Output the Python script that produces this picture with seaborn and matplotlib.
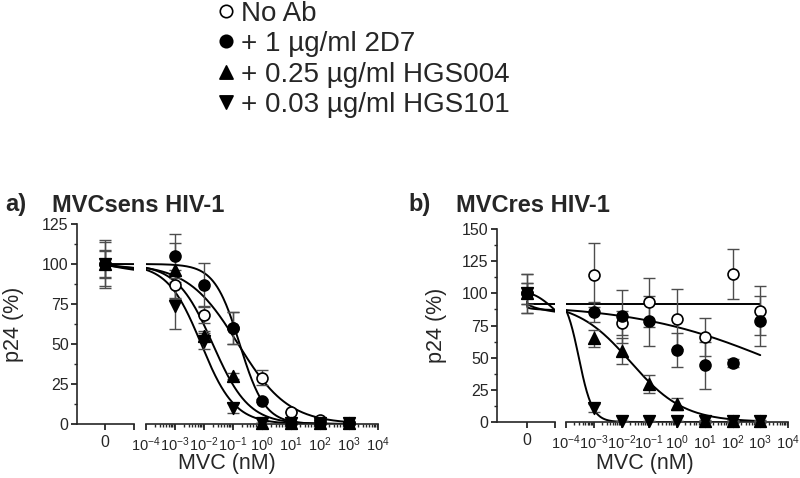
import numpy as np
import pandas as pd
import seaborn as sns
import matplotlib
matplotlib.use('Agg')
import matplotlib.pyplot as plt
from matplotlib.ticker import FixedLocator, FixedFormatter, NullFormatter, NullLocator
from matplotlib.markers import TICKDOWN

# concentrations of MVC (nM); the 0 point is drawn on its own axis segment
conc = [1e-3, 1e-2, 1e-1, 1e0, 1e1, 1e2, 1e3]
decades = [-4, -3, -2, -1, 0, 1, 2, 3, 4]
series = ['No Ab', '+ 1 µg/ml 2D7', '+ 0.25 µg/ml HGS004', '+ 0.03 µg/ml HGS101']
markers = ['o', 'o', '^', 'v']
faces = ['white', 'black', 'black', 'black']

# a) MVCsens HIV-1
a_zero = [100, 100, 100, 100]
a_zero_err = [14, 9, 8, 15]
a_noab = [87, 68, 60, 29, 7.5, 2.5, 0.5]
a_noab_err = [9, 5, 10, 4.5, 0, 0, 0]
a_2d7 = [105, 87, 60, 14.5, 0.5, 0.5, 0.5]
a_2d7_err = [14, 13.5, 10, 1, 0, 0, 0]
a_hgs004 = [96, 55, 30, 0.5, 0.5, 0.5, 0.5]
a_hgs004_err = [17, 3, 2, 0, 0, 0, 0]
a_hgs101 = [74, 52, 10, 0.5, 0.5, 0.5, 0.5]
a_hgs101_err = [14.5, 5, 3, 0, 0, 0, 0]
# fitted dose-response parameters: top, bottom, IC50 (nM), hill slope
a_top = [100, 100, 100, 100]
a_bottom = [0, 0, 0, 0]
a_ic50 = [0.15, 0.17, 0.02, 0.008]
a_hill = [0.5, 1.0, 0.7, 0.75]

# b) MVCres HIV-1
b_zero = [100, 100, 100, 100]
b_zero_err = [15, 8, 15, 8]
b_noab = [114, 77, 93, 80, 66, 115, 86.5]
b_noab_err = [25, 9, 19, 23, 15, 19.5, 19]
b_2d7 = [85.5, 82, 78.5, 56, 44, 46, 78.5]
b_2d7_err = [7.5, 20.5, 19.5, 13.5, 18, 3.3, 19.5]
b_hgs004 = [65, 55, 29.5, 14, 0.5, 0.5, 0.5]
b_hgs004_err = [6.5, 10, 7, 4.5, 1, 1, 1]
b_hgs101 = [11, 0.5, 0.5, 0.5, 0.5, 0.5, 0.5]
b_hgs101_err = [3, 0, 0, 0, 0, 0, 0]
b_top = [92, 91.5, 93.5, 100]
b_bottom = [92, 0, 0, 0]
b_ic50 = [1.0, 5160, 0.021, 2.9e-4]
b_hill = [1.0, 0.167, 0.45, 1.78]

W, H = 800, 478

sns.set_style('ticks')
plt.rcParams['font.family'] = ['Liberation Sans', 'DejaVu Sans']
plt.rcParams['mathtext.fontset'] = 'custom'
plt.rcParams['mathtext.rm'] = 'Liberation Sans'
plt.rcParams['mathtext.default'] = 'regular'


def logistic(c, top, bottom, ic50, hill):
    return bottom + (top - bottom) / (1 + (c / ic50) ** hill)


def rect(x0, x1, y0, y1):
    return [x0 / W, 1 - y1 / H, (x1 - x0) / W, (y1 - y0) / H]


def draw_panel(fig, xs, ys, zero, zero_err, vals, errs, fits, ymax):
    axL = fig.add_axes(rect(xs[0], xs[1], ys[0], ys[1]))
    axR = fig.add_axes(rect(xs[3], xs[4], ys[0], ys[1]))
    left_lim = -(xs[2] - xs[0]) / (xs[1] - xs[2])

    c_left = np.linspace(0, 1, 60)
    c_right = np.logspace(-4, 3, 300)
    for i in range(4):
        top, bottom, ic50, hill = fits[0][i], fits[1][i], fits[2][i], fits[3][i]
        # curve on the "0" segment runs linearly from 0 up to 1e-4 nM
        sns.lineplot(x=c_left, y=logistic(c_left * 1e-4, top, bottom, ic50, hill),
                     ax=axL, color='black', lw=1.4, sort=False, estimator=None, zorder=2)
        sns.lineplot(x=c_right, y=logistic(c_right, top, bottom, ic50, hill),
                     ax=axR, color='black', lw=1.4, sort=False, estimator=None, zorder=2)

    for i in range(4):
        for ax, x, y, e in [(axL, [0], [zero[i]], [zero_err[i]]),
                            (axR, conc, vals[i], errs[i])]:
            eb = ax.errorbar(x, y, yerr=e, fmt='none', ecolor='0.3', elinewidth=1,
                             capsize=4, capthick=1, zorder=3)
            for art in eb.get_children():
                art.set_clip_on(False)
            sns.scatterplot(x=x, y=y, ax=ax, marker=markers[i], s=62 if markers[i] == 'o' else 70,
                            color=faces[i], edgecolor='black', linewidth=1.2,
                            clip_on=False, zorder=4 + (i > 0), legend=False)

    for ax in (axL, axR):
        ax.set_ylim(0, ymax)
        ax.set_xlabel('')
        ax.set_ylabel('')
        ax.xaxis.label.set_visible(False)
        ax.yaxis.label.set_visible(False)
        sns.despine(ax=ax)
        ax.spines['bottom'].set_linewidth(1.2)
        ax.spines['left'].set_linewidth(1.2)
        ax.tick_params(which='major', direction='out', length=4, width=1.1,
                       labelsize=11.5, pad=2, color='black')
        ax.tick_params(which='minor', direction='out', length=2.5, width=1)

    axL.set_xlim(left_lim, 1)
    axL.set_xticks([0])
    axL.set_xticklabels(['0'])
    axL.xaxis.set_minor_locator(NullLocator())
    # end tick of the broken "0" segment
    axL.plot([1], [0], marker=TICKDOWN, ms=4, mew=1.1, color='black', clip_on=False)
    axL.set_yticks(np.arange(0, ymax + 1, 25))
    axL.yaxis.set_minor_locator(FixedLocator(np.arange(12.5, ymax, 25)))
    axL.tick_params(axis='x', pad=4)

    axR.set_xscale('log')
    axR.set_xlim(1e-4, 1e4)
    axR.xaxis.set_major_locator(FixedLocator([10.0 ** d for d in decades]))
    axR.xaxis.set_major_formatter(FixedFormatter([r'$10^{%d}$' % d for d in decades]))
    axR.xaxis.set_minor_locator(FixedLocator([m * 10.0 ** d for d in decades[:-1] for m in range(2, 10)]))
    axR.xaxis.set_minor_formatter(NullFormatter())
    axR.spines['left'].set_visible(False)
    axR.tick_params(axis='y', left=False, labelleft=False)
    axR.tick_params(axis='x', which='major', pad=4, labelsize=10.5)
    return axL, axR


fig = plt.figure(figsize=(W / 100, H / 100), dpi=100)

draw_panel(fig, (77, 134, 105, 146, 378), (224, 424), a_zero, a_zero_err,
           [a_noab, a_2d7, a_hgs004, a_hgs101],
           [a_noab_err, a_2d7_err, a_hgs004_err, a_hgs101_err],
           (a_top, a_bottom, a_ic50, a_hill), 125)
draw_panel(fig, (497, 555, 527, 566, 788), (229, 422), b_zero, b_zero_err,
           [b_noab, b_2d7, b_hgs004, b_hgs101],
           [b_noab_err, b_2d7_err, b_hgs004_err, b_hgs101_err],
           (b_top, b_bottom, b_ic50, b_hill), 150)

# panel titles and axis labels
for x, txt in [(5, 'a)'), (52, 'MVCsens HIV-1'), (408, 'b)'), (456, 'MVCres HIV-1')]:
    fig.text(x / W, 1 - 205 / H, txt, fontsize=17, fontweight='bold', va='center', ha='left')
for x, y in [(14, 324), (436, 325)]:
    fig.text(x / W, 1 - y / H, 'p24 (%)', fontsize=15.5, rotation=90, ha='center', va='center')
for x in (227, 645):
    fig.text(x / W, 1 - 463 / H, 'MVC (nM)', fontsize=15.5, ha='center', va='center')

# legend on top
leg = fig.add_axes([0, 0, 1, 1], zorder=-1)
leg.set_xlim(0, W)
leg.set_ylim(H, 0)
leg.axis('off')
row_base = [20.5, 51, 81.5, 112]
for i in range(4):
    leg.scatter([226], [row_base[i] - 10], marker=markers[i], s=80 if markers[i] == 'o' else 90,
                color=faces[i], edgecolor='black', linewidth=1.2)
    leg.text(241, row_base[i], series[i], fontsize=20, va='baseline', ha='left')

fig.savefig('out.png', dpi=100)
